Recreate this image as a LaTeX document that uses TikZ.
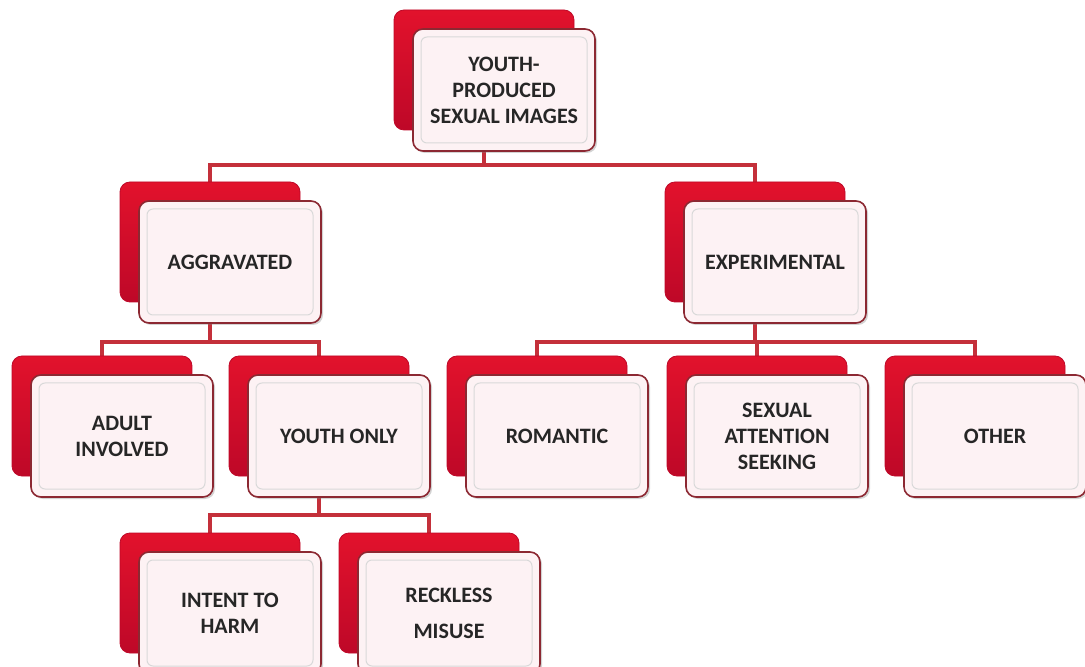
\documentclass[tikz,border=0pt]{standalone}
\usepackage{fontspec}
\setmainfont{Carlito}
\usepackage{tikz}
\usetikzlibrary{positioning,shadows,backgrounds}
\definecolor{boxred}{RGB}{226,18,44}
\definecolor{boxdark}{RGB}{190,8,40}
\definecolor{rim}{RGB}{140,40,50}
\definecolor{linkred}{RGB}{196,48,58}
\definecolor{boxpink}{RGB}{253,242,244}
\tikzset{
    backbox/.style={rounded corners=5pt, top color=boxred, bottom color=boxdark,
        draw=boxdark, line width=0.4pt, minimum width=90pt, minimum height=60pt},
    frontbox/.style={rounded corners=5pt, fill=boxpink, draw=rim, line width=0.8pt,
        minimum width=91pt, minimum height=61pt, align=center,
        font=\fontsize{11}{13}\selectfont\bfseries, text=black!85,
        drop shadow={opacity=0.35, shadow xshift=1pt, shadow yshift=-1pt},
        path picture={\draw[black!15, line width=0.5pt, rounded corners=3pt]
            ([shift={(4pt,-4pt)}]path picture bounding box.north west) rectangle
            ([shift={(-4pt,4pt)}]path picture bounding box.south east);}},
    link/.style={draw=linkred, line width=1.7pt},
}

\begin{document}
\begin{tikzpicture}[x=0.5pt, y=-0.5pt]
    \useasboundingbox (0,0) rectangle (1085,667);
    \foreach \n/\x/\y/\t in {top/504/90/{YOUTH-\\PRODUCED\\SEXUAL IMAGES},
        agg/230/262/AGGRAVATED, exp/775/262/EXPERIMENTAL,
        adult/122/436/{ADULT\\INVOLVED}, youth/339/436/{YOUTH ONLY},
        rom/557/436/ROMANTIC, sexual/777/436/{SEXUAL\\ATTENTION\\SEEKING},
        other/995/436/OTHER,
        intent/230/613/{INTENT TO\\HARM}, reckless/449/613/{RECKLESS\\[5pt]MISUSE}}
    {
        \node[backbox] (\n-b) at (\x-20,\y-20) {};
        \node[frontbox] (\n) at (\x,\y) {\t};
    }
    \coordinate (top-bus) at (0,165);
    \coordinate (mid-bus) at (0,342);
    \coordinate (low-bus) at (0,515);
    \begin{scope}[on background layer]
        \draw[link] (top-b.center) -- (top-b.center |- top-bus) -| (agg-b.center);
        \draw[link] (top-b.center |- top-bus) -| (exp-b.center);
        \draw[link] (agg-b.center) -- (agg-b.center |- mid-bus) -| (adult-b.center);
        \draw[link] (agg-b.center |- mid-bus) -| (youth-b.center);
        \draw[link] (exp-b.center) -- (exp-b.center |- mid-bus) -| (rom-b.center);
        \draw[link] (exp-b.center |- mid-bus) -| (sexual-b.center);
        \draw[link] (exp-b.center |- mid-bus) -| (other-b.center);
        \draw[link] (youth-b.center) -- (youth-b.center |- low-bus) -| (intent-b.center);
        \draw[link] (youth-b.center |- low-bus) -| (reckless-b.center);
    \end{scope}
\end{tikzpicture}
\end{document}
